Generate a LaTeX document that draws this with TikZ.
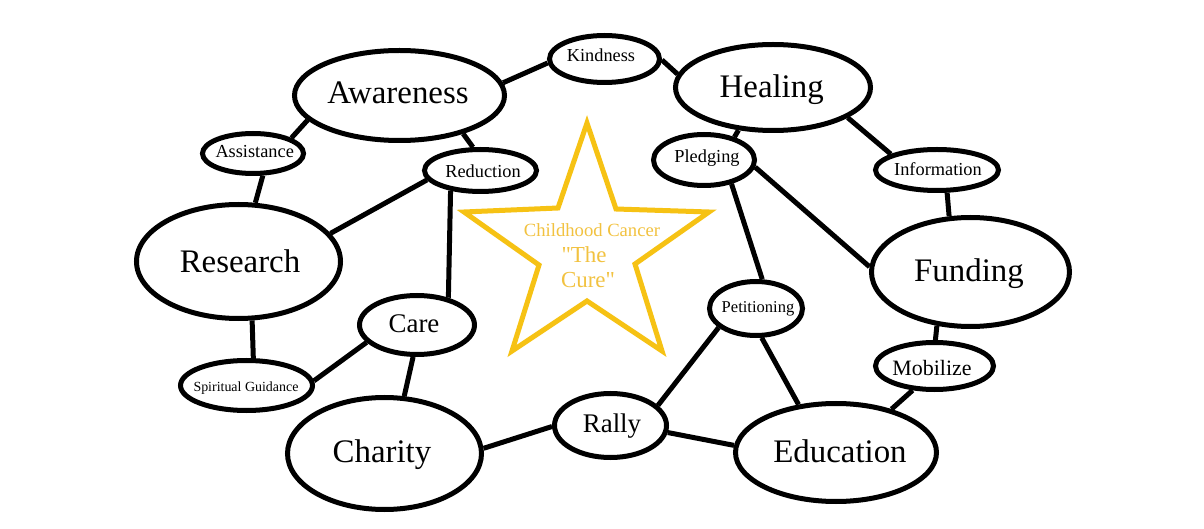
\documentclass[tikz,border=0pt]{standalone}
\usepackage{fontspec}
\setmainfont{Liberation Serif}
\newfontfamily\starfont{Liberation Serif}[Ligatures=TeXOff]
\usetikzlibrary{shapes.geometric}
\definecolor{starline}{RGB}{246,194,20}
\definecolor{startext}{RGB}{242,194,64}
\tikzset{
  bub/.style 2 args={ellipse, draw=black, line width=5bp, minimum width=#1, minimum height=#2, inner sep=0pt},
  lbl/.style={anchor=base, inner sep=0pt, text=black},
  big/.style={lbl, font=\fontsize{33}{36}\selectfont},
  mid/.style={lbl, font=\fontsize{27}{30}\selectfont},
  sml/.style={lbl, font=\fontsize{18.4}{20}\selectfont},
  conn/.style={draw=black, line width=5bp},
  starpath/.style={draw=starline, line width=5bp, line join=miter},
  startxt/.style={anchor=base, inner sep=0pt, text=startext}
}
\begin{document}
\begin{tikzpicture}[x=1bp, y=-1bp]
\useasboundingbox[fill=white] (0,0) rectangle (1204,529);

% ellipses
\node[bub={210bp}{90bp}] (aw) at (399.5,95.5) {};
\node[bub={110bp}{47bp}] (kind) at (604.5,59) {};
\node[bub={195bp}{86bp}] (heal) at (773,87.5) {};
\node[bub={101bp}{40bp}] (assist) at (253,153.5) {};
\node[bub={112bp}{42bp}] (red) at (480.5,170.5) {};
\node[bub={101bp}{51bp}] (pled) at (704,160) {};
\node[bub={123bp}{41bp}] (info) at (937,170) {};
\node[bub={204bp}{114bp}] (res) at (238.5,261.5) {};
\node[bub={198bp}{109bp}] (fund) at (970.5,272) {};
\node[bub={115bp}{59bp}] (care) at (417,325) {};
\node[bub={93bp}{54bp}] (pet) at (756,308.5) {};
\node[bub={132bp}{50bp}] (spir) at (246.5,385.5) {};
\node[bub={118bp}{47bp}] (mob) at (934.5,366) {};
\node[bub={194bp}{112bp}] (char) at (384.5,453.5) {};
\node[bub={112bp}{64bp}] (rally) at (610.5,425.5) {};
\node[bub={201bp}{98bp}] (edu) at (836,452.5) {};

% labels
\node[big] (taw) at (398,104) {Awareness};
\node[big] (theal) at (771.7,98) {Healing};
\node[big] (tres) at (240,273) {Research};
\node[big] (tfund) at (969,282) {Funding};
\node[big] (tchar) at (382,462) {Charity};
\node[big] (tedu) at (840,462) {Education};
\node[mid] (tcare) at (414,333) {Care};
\node[mid] (trally) at (612,432) {Rally};
\node[lbl, font=\fontsize{22}{24}\selectfont] (tmob) at (932,376) {Mobilize};
\node[sml] (tkind) at (601,62) {Kindness};
\node[sml] (tassist) at (254.7,158) {Assistance};
\node[sml] (tred) at (483,178) {Reduction};
\node[sml] (tpled) at (707,163) {Pledging};
\node[sml] (tinfo) at (938,176) {Information};
\node[lbl, font=\fontsize{16.6}{18}\selectfont] (tpet) at (758,313) {Petitioning};
\node[lbl, font=\fontsize{14}{16}\selectfont] (tspir) at (246,391) {Spiritual Guidance};

% connectors
\draw[conn] (aw.7.5) -- (kind.184);
\draw[conn] (kind.-1) -- (heal.172.6);
\draw[conn] (aw.195.4) -- (assist.22.9);
\draw[conn] (assist.294.8) -- (res.74.2);
\draw[conn] (aw.329.7) -- (red.108.4);
\draw[conn] (red.190.1) -- (res.17.5);
\draw[conn] (red.214.4) -- (care.41);
\draw[conn] (res.283) -- (spir.76.7);
\draw[conn] (spir.4.6) -- (care.199.1);
\draw[conn] (care.263.1) -- (char.71.9);
\draw[conn] (char.3.7) -- (rally.181.5);
\draw[conn] (rally.353.6) -- (edu.176.9);
\draw[conn] (rally.23.3) -- (pet.207.7);
\draw[conn] (pet.281.9) -- (edu.128.1);
\draw[conn] (edu.38.5) -- (mob.228.7);
\draw[conn] (mob.88.8) -- (fund.238.1);
\draw[conn] (heal.231) -- (pled.37.7);
\draw[conn] (pled.319.2) -- (pet.78.1);
\draw[conn] (pled.352.2) -- (fund.177.7);
\draw[conn] (heal.338.9) -- (info.161.6);
\draw[conn] (info.294.4) -- (fund.111.9);

% star
\draw[starpath] (587,123) -- (616,209) -- (709,212) -- (635,264) -- (662,351)
  -- (587,301) -- (512,351) -- (539,265) -- (464,212) -- (558,208) -- cycle;
\node[startxt, font=\starfont\fontsize{18.7}{20}\selectfont] (tcc) at (592,237) {Childhood Cancer};
\node[startxt, font=\starfont\fontsize{23}{25}\selectfont] (tthe) at (584,263) {"The};
\node[startxt, font=\starfont\fontsize{23}{25}\selectfont] (tcure) at (588,288) {Cure"};
\end{tikzpicture}
\end{document}
